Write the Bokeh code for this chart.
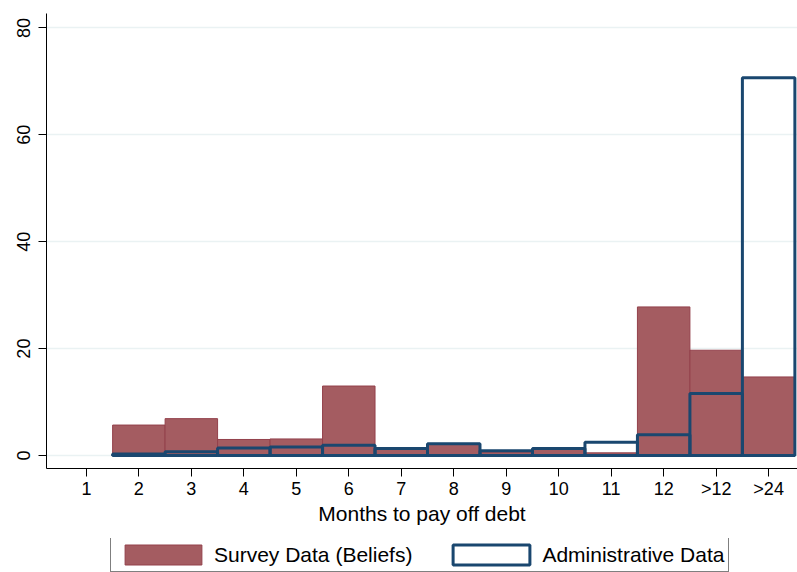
from bokeh.plotting import figure
from bokeh.models import Range1d, FixedTicker, Legend, LegendItem
from bokeh.layouts import column
from bokeh.embed import file_html
from bokeh.resources import INLINE
import numpy as np

# Months-to-pay-off categories and shares (percent); nan = no observations
categories = ["1", "2", "3", "4", "5", "6", "7", "8", "9", "10", "11", "12", ">12", ">24"]
survey_beliefs = [np.nan, 5.7, 6.9, 3.0, 3.1, 13.0, 1.2, 2.1, 0.6, 1.3, 0.5, 27.8, 19.7, 14.7]
administrative = [np.nan, 0.3, 0.7, 1.4, 1.6, 1.9, 1.3, 2.2, 0.9, 1.3, 2.5, 3.9, 11.6, 70.7]
y_ticks = [0, 20, 40, 60, 80]

pos = np.arange(1, len(categories) + 1)

FONT = "Liberation Sans"
RED_FILL = "#a45c61"
RED_LINE = "#93404b"
NAVY = "#1a476f"
GRID = "#eaf2f3"

survey_style = dict(fill_color=RED_FILL, line_color=RED_LINE, line_width=1)
admin_style = dict(fill_alpha=0, line_color=NAVY, line_width=3)

p = figure(
    width=797, height=538,
    x_range=Range1d(0.24, 14.55), y_range=Range1d(-2.43, 82.7),
    output_backend="svg", toolbar_location=None,
    min_border_left=46, min_border_right=0, min_border_top=13, min_border_bottom=70,
)
p.outline_line_color = None
p.background_fill_color = "white"
p.border_fill_color = "white"

p.vbar(x=pos, top=survey_beliefs, bottom=0, width=1.0, **survey_style)
p.vbar(x=pos, top=administrative, bottom=0, width=1.0, **admin_style)

# axes
p.xaxis.ticker = FixedTicker(ticks=list(pos))
p.xaxis.major_label_overrides = {int(i): c for i, c in zip(pos, categories)}
p.xaxis.minor_tick_line_color = None
p.xaxis.axis_label = "Months to pay off debt"
p.xaxis.axis_label_text_font = FONT
p.xaxis.axis_label_text_font_size = "21px"
p.xaxis.axis_label_text_font_style = "normal"
p.xaxis.axis_label_text_color = "black"
p.xaxis.axis_label_standoff = 0
p.xaxis.major_label_standoff = 2

p.yaxis.ticker = FixedTicker(ticks=y_ticks)
p.yaxis.minor_tick_line_color = None
p.yaxis.major_label_orientation = "vertical"
p.yaxis.major_label_standoff = 8

for ax in (p.xaxis, p.yaxis):
    ax.major_label_text_font = FONT
    ax.major_label_text_font_size = "18px"
    ax.major_label_text_color = "black"
    ax.axis_line_color = "black"
    ax.axis_line_width = 1
    ax.major_tick_line_color = "black"
    ax.major_tick_out = 8
    ax.major_tick_in = 0

p.xgrid.grid_line_color = None
p.ygrid.ticker = FixedTicker(ticks=y_ticks)
p.ygrid.grid_line_color = GRID
p.ygrid.grid_line_width = 1.5

# legend strip under the chart; its key bars carry no drawable data
key = figure(
    width=797, height=34, x_range=Range1d(0, 1), y_range=Range1d(0, 1),
    x_axis_location=None, y_axis_location=None,
    output_backend="svg", toolbar_location=None, min_border=0,
)
key.outline_line_color = None
key.grid.visible = False
key_survey = key.vbar(x=[np.nan], top=[np.nan], bottom=[np.nan], width=1.0, **survey_style)
key_admin = key.vbar(x=[np.nan], top=[np.nan], bottom=[np.nan], width=1.0, **admin_style)

legend = Legend(
    items=[LegendItem(label="Survey Data (Beliefs)", renderers=[key_survey]),
           LegendItem(label="Administrative Data", renderers=[key_admin])],
    orientation="horizontal", location=(64, 0),
    label_text_font=FONT, label_text_font_size="21px", label_text_color="black",
    label_height=20, glyph_width=96, glyph_height=25, label_standoff=3, spacing=31,
    padding=4, margin=0,
    border_line_color="black", border_line_width=1,
    background_fill_color="white",
)
key.add_layout(legend)

open("out.html", "w").write(file_html(column(p, key, spacing=0), INLINE))
